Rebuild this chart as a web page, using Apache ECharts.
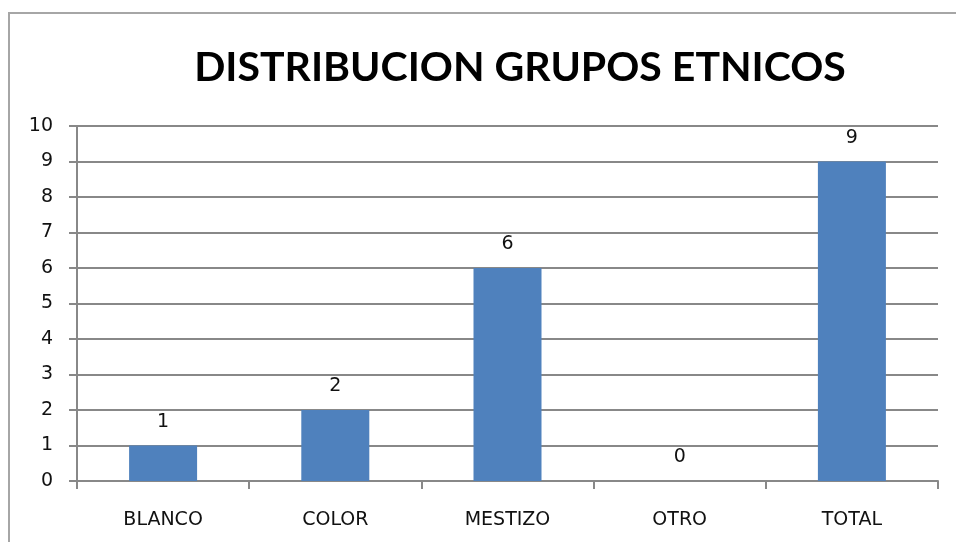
<!DOCTYPE html>
<html>
<head>
<meta charset="utf-8">
<script src="https://cdn.jsdelivr.net/npm/echarts@6/dist/echarts.min.js"></script>
<style>
  html, body { margin: 0; padding: 0; background: #fff; }
  #chart { width: 956px; height: 542px; }
</style>
</head>
<body>
<div id="chart"></div>
<script>
  var categories = ['BLANCO', 'COLOR', 'MESTIZO', 'OTRO', 'TOTAL'];
  var values = [1, 2, 6, 0, 9];
  var chartTitle = 'DISTRIBUCION GRUPOS ETNICOS';

  var myChart = echarts.init(document.getElementById('chart'));
  myChart.setOption({
    animation: false,
    backgroundColor: '#fff',
    graphic: [{
      type: 'rect',
      shape: { x: 9, y: 13, width: 1000, height: 600 },
      style: { fill: 'none', stroke: '#a6a6a6', lineWidth: 2 }
    }],
    title: {
      text: chartTitle,
      left: 515,
      top: 42,
      textAlign: 'center',
      textStyle: { fontFamily: 'Lato', fontWeight: 'bold', fontSize: 41, color: '#000' }
    },
    grid: { left: 77, right: 18, top: 126, bottom: 61, containLabel: false },
    xAxis: {
      type: 'category',
      data: categories,
      axisLine: { show: true, lineStyle: { color: '#888', width: 2 } },
      axisTick: { show: true, length: 8, lineStyle: { color: '#888', width: 2 } },
      axisLabel: { color: '#111', fontFamily: 'DejaVu Sans', fontSize: 19, margin: 30 },
      splitLine: { show: false }
    },
    yAxis: {
      type: 'value',
      min: 0,
      max: 10,
      interval: 1,
      axisLine: { show: true, lineStyle: { color: '#888', width: 2 } },
      axisTick: { show: true, length: 8, lineStyle: { color: '#888', width: 2 } },
      axisLabel: { color: '#111', fontFamily: 'DejaVu Sans', fontSize: 19, margin: 24 },
      splitLine: { show: true, lineStyle: { color: '#888', width: 2 } }
    },
    series: [{
      type: 'bar',
      data: values,
      barWidth: 68,
      itemStyle: { color: '#4f81bd' },
      label: {
        show: true,
        position: 'top',
        distance: 14,
        color: '#111',
        fontFamily: 'DejaVu Sans',
        fontSize: 19
      }
    }]
  });
</script>
</body>
</html>
